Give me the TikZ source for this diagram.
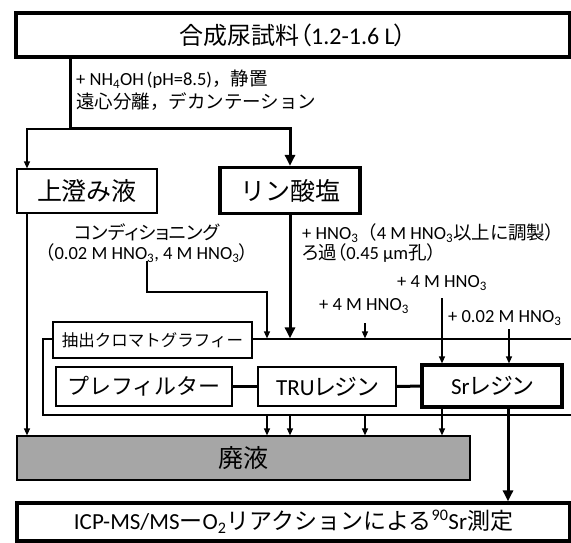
\documentclass[tikz,border=0pt]{standalone}
\usepackage{fontspec}
\setmainfont{Carlito}
\newfontfamily\jp[RawFeature=+palt]{Noto Sans CJK JP}
\newfontfamily\jpf{Noto Sans CJK JP}
\usetikzlibrary{arrows.meta}
\definecolor{wastegray}{RGB}{166,166,166}
\newcommand\myfs[1]{\fontsize{#1}{#1}\selectfont}
\tikzset{
  thinln/.style={line width=1.2pt},
  thickln/.style={line width=3pt},
  arr/.style={thinln,-{Triangle[length=7pt,width=6pt]}},
  tarr/.style={thickln,-{Triangle[length=11pt,width=10pt]}},
  box/.style={draw,line width=1.2pt,fill=white,inner sep=0pt,align=center},
  tbox/.style={box,line width=3.2pt},
  txt/.style={inner sep=0pt,text height=0.88em,text depth=0.12em,font=\myfs{18.5}},
}
\begin{document}
\begin{tikzpicture}[x=1pt,y=-1pt]
\useasboundingbox (0,0) rectangle (571,543);
\fill[white] (0,0) rectangle (571,543);

% top
\node[tbox,minimum width=554pt,minimum height=44pt,font=\myfs{24}] (top) at (293,35) {{\jpf 合成尿試料}{\jp （}1.2-1.6 L{\jp ）}};
\node[txt,anchor=west] (t1) at (76,82) {+ NH\textsubscript{4}OH\,(pH=8.5){\jpf ，静置}};
\node[txt,anchor=west] (t2) at (76,105) {\jpf 遠心分離，デカンテーション};

\coordinate (split) at (70,129);
\coordinate (xl) at (27,0);
\node[box,minimum width=140pt,minimum height=44pt,font=\myfs{25}] (sup) at (87,191) {\jpf 上澄み液};
\node[tbox,minimum width=140pt,minimum height=46pt,font=\myfs{25}] (phos) at (290,190.5) {\jpf リン酸塩};

\draw[arr] (split) -| (sup.north -| xl);
\draw[tarr] (top.south -| split) -- (split) -| (phos.north);

% conditioning and HNO3 texts
\node[txt] (c1) at (147,236) {\jp コンディショニング};
\node[txt] (c2) at (147,256) {{\jp （}0.02 M HNO\textsubscript{3}, 4 M HNO\textsubscript{3}{\jp ）}};
\node[txt,anchor=west] (h1) at (302,236) {+ HNO\textsubscript{3}{\jpf （}4 M HNO\textsubscript{3}{\jp 以上に調製）}};
\node[txt,anchor=west] (h2) at (302,256) {{\jp ろ過（}0.45 μm{\jp 孔）}};

% extraction chromatography container
\node[draw,thinln,minimum width=557pt,minimum height=76pt,inner sep=0pt] (ext) at (321.5,377) {};
\node[box,minimum width=199pt,minimum height=36pt,font=\myfs{16.5}] (lab) at (152.5,340) {\jpf 抽出クロマトグラフィー};
\node[box,minimum width=176pt,minimum height=39pt,font=\myfs{22}] (pre) at (144,386.5) {\jpf プレフィルター};
\node[box,minimum width=138pt,minimum height=39pt,font=\myfs{23}] (tru) at (327,386.5) {TRU{\jp レジン}};
\node[tbox,minimum width=140pt,minimum height=42pt,font=\myfs{23}] (sr) at (492,386) {Sr{\jp レジン}};
\draw[thickln] (pre) -- (tru);
\draw[thickln] (tru) -- (sr);

% reagent labels
\node[txt] (r1) at (364,307) {+ 4 M HNO\textsubscript{3}};
\node[txt] (r2) at (442,284) {+ 4 M HNO\textsubscript{3}};
\node[txt,anchor=west] (r3) at (448,319) {+ 0.02 M HNO\textsubscript{3}};

% waste and final
\node[box,fill=wastegray,minimum width=453pt,minimum height=44pt,font=\myfs{25}] (waste) at (243.5,458) {\jpf 廃液};
\node[tbox,minimum width=553pt,minimum height=38pt,font=\myfs{23}] (final) at (293.5,522) {ICP-MS/MS{\jpf ー}O\textsubscript{2}{\jpf リアクションによる}\textsuperscript{90}Sr{\jpf 測定}};

% connectors
\draw[arr] (sup.south -| xl) -- (waste.north -| xl);
\coordinate (cb) at (267,292);
\draw[arr] (c2.south) |- (cb) -- (cb |- ext.north);
\draw[tarr] (phos.south) -- (phos.south |- ext.north);
\coordinate (a1) at (365,323);
\draw[arr] (a1) -- (a1 |- ext.north);
\coordinate (a2) at (442,298);
\draw[arr] (a2) -- (a2 |- sr.north);
\coordinate (a3) at (509,329);
\draw[arr] (a3) -- (a3 |- sr.north);
\coordinate (w1) at (267,0);
\coordinate (w2) at (290,0);
\coordinate (w3) at (365,0);
\draw[arr] (ext.south -| w1) -- (waste.north -| w1);
\draw[arr] (ext.south -| w2) -- (waste.north -| w2);
\draw[arr] (ext.south -| w3) -- (waste.north -| w3);
\draw[arr] (sr.south -| a2) -- (waste.north -| a2);
\coordinate (a4) at (508,0);
\draw[tarr] (sr.south -| a4) -- (final.north -| a4);
\end{tikzpicture}
\end{document}
